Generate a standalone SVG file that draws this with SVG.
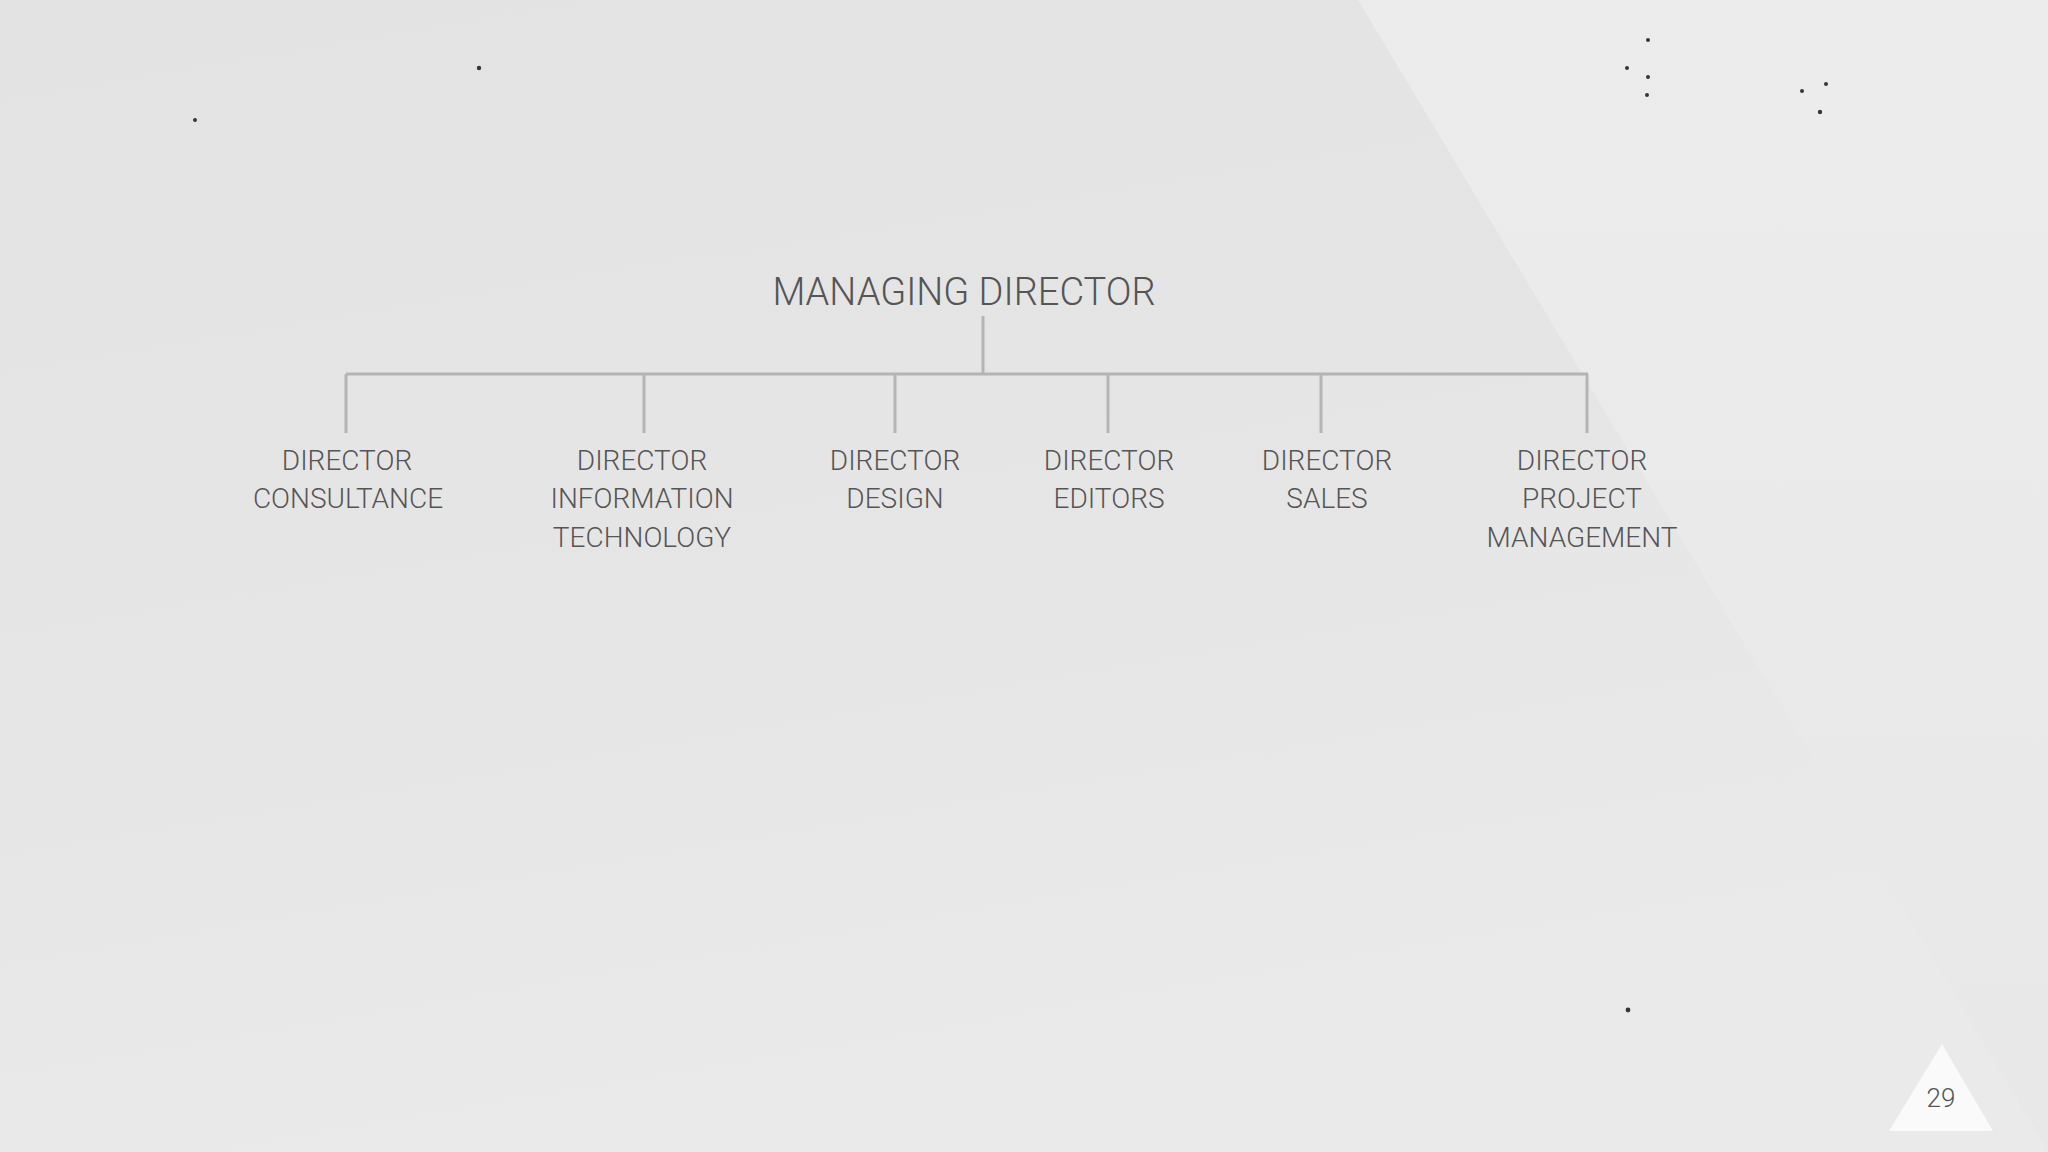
<svg xmlns="http://www.w3.org/2000/svg" width="2048" height="1152" viewBox="0 0 2048 1152">
  <defs>
    <linearGradient id="bg" x1="0" y1="0" x2="0.3" y2="1">
      <stop offset="0" stop-color="#e4e3e3"/>
      <stop offset="0.5" stop-color="#e6e5e5"/>
      <stop offset="1" stop-color="#ebeaea"/>
    </linearGradient>
    <linearGradient id="tri" x1="0" y1="0" x2="0" y2="1">
      <stop offset="0" stop-color="#edecec"/>
      <stop offset="1" stop-color="#e9e8e8"/>
    </linearGradient>
    <style>
      .lbl { font-family: Roboto, "Liberation Sans", sans-serif; font-weight: 300; fill: #555555; text-anchor: middle; }
      .node { font-size: 28px; }
      .title { font-size: 38px; }
      .conn { stroke: #b4b4b4; stroke-width: 3; fill: none; }
      .speck { fill: #3a3535; }
    </style>
  </defs>

  <rect x="0" y="0" width="2048" height="1152" fill="url(#bg)"/>
  <polygon points="1358,0 2048,0 2048,1150" fill="url(#tri)"/>

  <g id="specks">
    <circle class="speck" cx="479" cy="68" r="2.2"/>
    <circle class="speck" cx="195" cy="120" r="2"/>
    <circle class="speck" cx="1648" cy="40" r="2"/>
    <circle class="speck" cx="1627" cy="68" r="2"/>
    <circle class="speck" cx="1648" cy="77" r="2"/>
    <circle class="speck" cx="1647" cy="95" r="2"/>
    <circle class="speck" cx="1802" cy="91" r="2"/>
    <circle class="speck" cx="1826" cy="84" r="2"/>
    <circle class="speck" cx="1820" cy="112" r="2.2"/>
    <circle class="speck" cx="1628" cy="1010" r="2.4"/>
  </g>

  <g id="connectors">
    <line class="conn" x1="983" y1="316" x2="983" y2="374"/>
    <line class="conn" x1="346" y1="374" x2="1588" y2="374"/>
    <line class="conn" x1="346" y1="374" x2="346" y2="433"/>
    <line class="conn" x1="644" y1="374" x2="644" y2="433"/>
    <line class="conn" x1="895" y1="374" x2="895" y2="433"/>
    <line class="conn" x1="1108" y1="374" x2="1108" y2="433"/>
    <line class="conn" x1="1321" y1="374" x2="1321" y2="433"/>
    <line class="conn" x1="1587" y1="374" x2="1587" y2="433"/>
  </g>

  <g id="managing-director">
    <text class="lbl title" x="964" y="305">MANAGING DIRECTOR</text>
  </g>
  <g id="director-consultance">
    <text class="lbl node" x="347" y="470">DIRECTOR</text>
    <text class="lbl node" x="348" y="508">CONSULTANCE</text>
  </g>
  <g id="director-it">
    <text class="lbl node" x="642" y="470">DIRECTOR</text>
    <text class="lbl node" x="642" y="508">INFORMATION</text>
    <text class="lbl node" x="642" y="547">TECHNOLOGY</text>
  </g>
  <g id="director-design">
    <text class="lbl node" x="895" y="470">DIRECTOR</text>
    <text class="lbl node" x="895" y="508">DESIGN</text>
  </g>
  <g id="director-editors">
    <text class="lbl node" x="1109" y="470">DIRECTOR</text>
    <text class="lbl node" x="1109" y="508">EDITORS</text>
  </g>
  <g id="director-sales">
    <text class="lbl node" x="1327" y="470">DIRECTOR</text>
    <text class="lbl node" x="1327" y="508">SALES</text>
  </g>
  <g id="director-project-management">
    <text class="lbl node" x="1582" y="470">DIRECTOR</text>
    <text class="lbl node" x="1582" y="508">PROJECT</text>
    <text class="lbl node" x="1582" y="547">MANAGEMENT</text>
  </g>

  <g id="page-number">
    <polygon points="1942,1044 1993,1131 1889,1131" fill="#fafafa"/>
    <text class="lbl" x="1941" y="1107" font-size="26">29</text>
  </g>
</svg>
